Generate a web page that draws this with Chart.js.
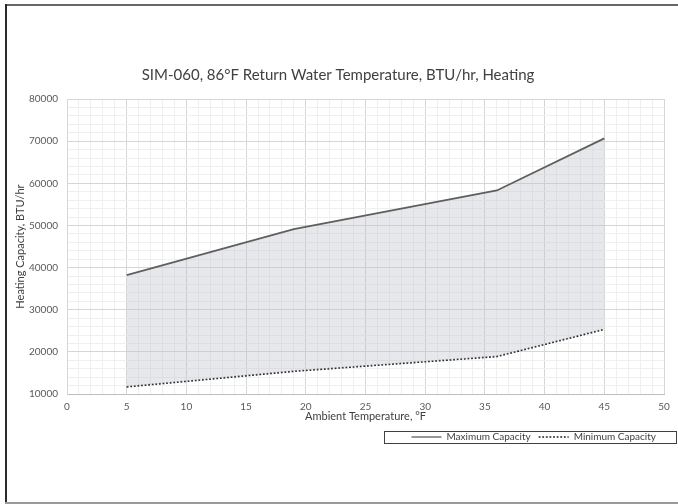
<!DOCTYPE html>
<html>
<head>
<meta charset="utf-8">
<script src="https://cdn.jsdelivr.net/npm/chart.js@4.4.1/dist/chart.umd.min.js"></script>
<style>
  html, body { margin: 0; padding: 0; background: #fff; overflow: hidden; }
  canvas { display: block; }
</style>
</head>
<body>
<canvas id="chart" width="678" height="504"></canvas>
<script>
// ambient temperature, °F
const temps = [5, 19, 36, 45];
// heating capacity, BTU/hr
const maxCapacity = [38200, 49100, 58300, 70650];
const minCapacity = [11700, 15400, 18900, 25350];

const xTicks = { min: 0, max: 50, step: 1, major: 5 };
const yTicks = { min: 10000, max: 80000, step: 2000, major: 10000 };

const toPoints = (xs, ys) => xs.map((x, i) => ({ x: x, y: ys[i] }));

const FONT = 'Lato, "Open Sans", sans-serif';
const gridMajor = '#d6d6d6';
const gridMinor = '#efefef';

// white page with the frame lines on top, left and bottom
const frame = {
  id: 'frame',
  beforeDraw(chart) {
    const ctx = chart.ctx;
    ctx.save();
    ctx.fillStyle = '#fff';
    ctx.fillRect(0, 0, chart.width, chart.height);
    ctx.fillStyle = '#666';
    ctx.fillRect(5, 4, chart.width - 5, 2);
    ctx.fillStyle = '#2b2b2b';
    ctx.fillRect(5, 4, 2, chart.height - 4);
    ctx.fillStyle = '#9a9a9a';
    ctx.fillRect(5, chart.height - 2, chart.width - 5, 2);
    ctx.restore();
  }
};

// box round the legend, like the Excel one
const legendBox = {
  id: 'legendBox',
  afterDraw(chart) {
    const boxes = chart.legend.legendHitBoxes;
    if (!boxes || !boxes.length) return;
    const first = boxes[0];
    const ctx = chart.ctx;
    const cy = first.top + first.height / 2;
    ctx.save();
    ctx.strokeStyle = '#404040';
    ctx.lineWidth = 1;
    ctx.strokeRect(384.5, Math.round(cy - 6) + 0.5, 292, 12);
    ctx.restore();
  }
};

new Chart(document.getElementById('chart'), {
  type: 'line',
  data: {
    datasets: [
      {
        label: 'Maximum Capacity',
        data: toPoints(temps, maxCapacity),
        borderColor: '#5f5f5f',
        borderWidth: 1.8,
        pointRadius: 0,
        fill: '+1',
        backgroundColor: 'rgba(188, 191, 199, 0.36)',
        tension: 0
      },
      {
        label: 'Minimum Capacity',
        data: toPoints(temps, minCapacity),
        borderColor: '#1a1a1a',
        borderWidth: 1.7,
        borderDash: [1.8, 1.8],
        pointRadius: 0,
        fill: false,
        tension: 0
      }
    ]
  },
  options: {
    responsive: false,
    animation: false,
    devicePixelRatio: 1,
    layout: { padding: { left: 12, right: 14, top: 66, bottom: 52 } },
    plugins: {
      title: {
        display: true,
        text: 'SIM-060, 86°F Return Water Temperature, BTU/hr, Heating',
        color: '#404040',
        font: { family: FONT, size: 15, weight: 'normal' },
        padding: { top: 0, bottom: 15 }
      },
      legend: {
        position: 'bottom',
        align: 'end',
        labels: {
          color: '#404040',
          font: { family: FONT, size: 10 },
          usePointStyle: true,
          pointStyle: 'line',
          pointStyleWidth: 30,
          padding: 8,
          // point style drops the dash, so put the line style back
          generateLabels: chart => Chart.defaults.plugins.legend.labels.generateLabels(chart).map(item => {
            const ds = chart.data.datasets[item.datasetIndex];
            item.lineDash = ds.borderDash || [];
            item.lineWidth = 1.3;
            item.strokeStyle = ds.borderColor;
            return item;
          })
        }
      },
      tooltip: { enabled: false }
    },
    scales: {
      x: {
        type: 'linear',
        min: xTicks.min,
        max: xTicks.max,
        afterFit: s => { s.height = 30; },
        ticks: {
          stepSize: xTicks.step,
          autoSkip: false,
          maxRotation: 0,
          padding: 7,
          color: '#595959',
          font: { family: FONT, size: 10 },
          callback: v => (v % xTicks.major === 0 ? String(v) : '')
        },
        grid: {
          drawTicks: false,
          color: c => (c.tick && c.tick.value % xTicks.major === 0 ? gridMajor : gridMinor)
        },
        border: { color: '#bfbfbf' },
        title: {
          display: true,
          text: 'Ambient Temperature, °F',
          color: '#404040',
          font: { family: FONT, size: 11 },
          padding: { top: 0, bottom: 1 }
        }
      },
      y: {
        min: yTicks.min,
        max: yTicks.max,
        afterFit: s => { s.width = 55; },
        ticks: {
          stepSize: yTicks.step,
          autoSkip: false,
          padding: 9,
          color: '#595959',
          font: { family: FONT, size: 10 },
          callback: v => (v % yTicks.major === 0 ? String(v) : '')
        },
        grid: {
          drawTicks: false,
          color: c => (c.tick && c.tick.value % yTicks.major === 0 ? gridMajor : gridMinor)
        },
        border: { color: '#d6d6d6' },
        title: {
          display: true,
          text: 'Heating Capacity, BTU/hr',
          color: '#404040',
          font: { family: FONT, size: 11 },
          padding: { top: 2, bottom: 0 }
        }
      }
    }
  },
  plugins: [frame, legendBox]
});
</script>
</body>
</html>
